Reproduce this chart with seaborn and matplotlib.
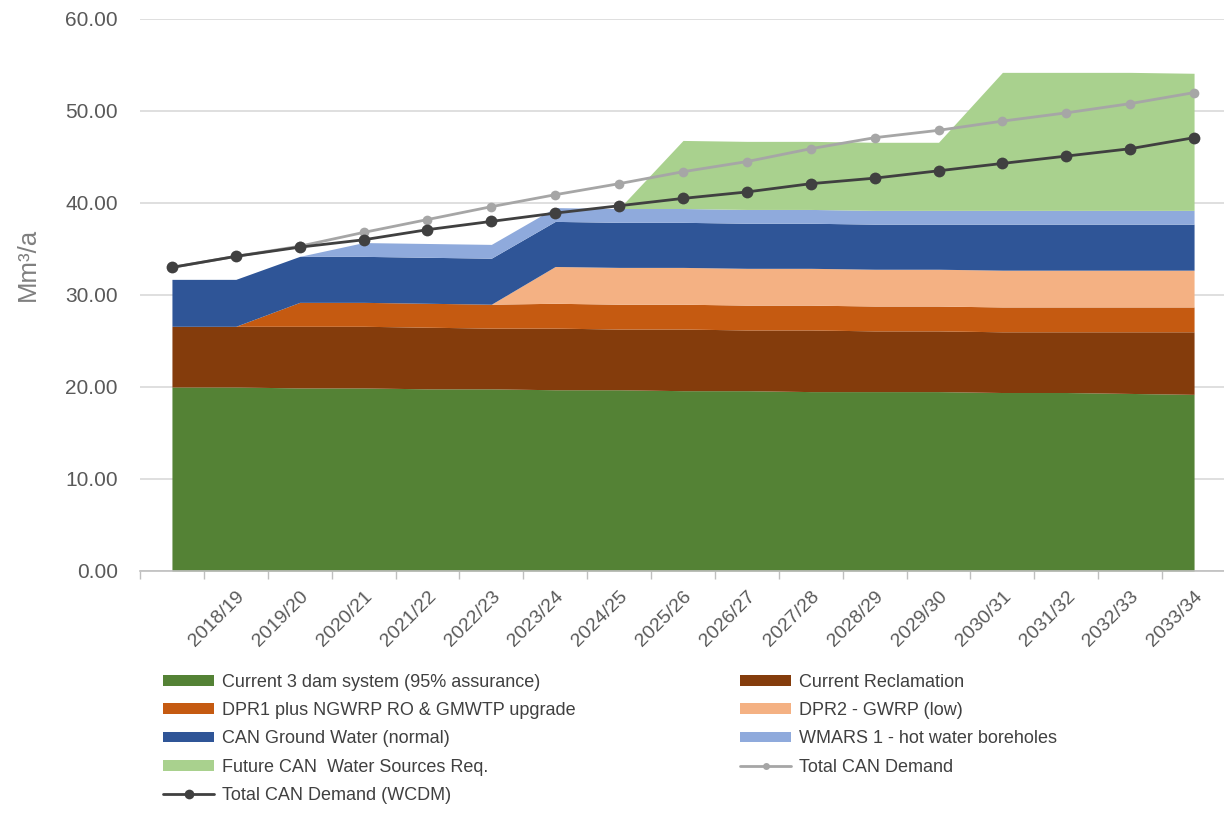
import matplotlib
matplotlib.use("Agg")
import matplotlib.pyplot as plt
import seaborn as sns
import numpy as np
import pandas as pd
from matplotlib.patches import Patch
from matplotlib.lines import Line2D

categories = ["", "2018/19", "2019/20", "2020/21", "2021/22", "2022/23", "2023/24", "2024/25",
              "2025/26", "2026/27", "2027/28", "2028/29", "2029/30", "2030/31", "2031/32",
              "2032/33", "2033/34"]

dam_system = [20.0, 20.0, 19.9, 19.9, 19.8, 19.8, 19.7, 19.7, 19.6, 19.6, 19.5, 19.5, 19.5, 19.4, 19.4, 19.3, 19.2]
reclamation = [6.6, 6.6, 6.7, 6.7, 6.7, 6.6, 6.7, 6.6, 6.7, 6.6, 6.7, 6.6, 6.6, 6.6, 6.6, 6.7, 6.8]
dpr1 = [0.0, 0.0, 2.6, 2.6, 2.6, 2.6, 2.7, 2.7, 2.7, 2.7, 2.7, 2.7, 2.7, 2.7, 2.7, 2.7, 2.7]
dpr2 = [0.0, 0.0, 0.0, 0.0, 0.0, 0.0, 4.0, 4.0, 4.0, 4.0, 4.0, 4.0, 4.0, 4.0, 4.0, 4.0, 4.0]
ground_water = [5.1, 5.1, 5.0, 5.0, 5.0, 5.0, 4.9, 4.9, 4.9, 4.9, 4.9, 4.9, 4.9, 5.0, 5.0, 5.0, 5.0]
wmars = [0.0, 0.0, 0.0, 1.5, 1.5, 1.5, 1.5, 1.5, 1.5, 1.5, 1.5, 1.5, 1.5, 1.5, 1.5, 1.5, 1.5]
future = [0.0, 0.0, 0.0, 0.0, 0.0, 0.0, 0.0, 0.0, 7.4, 7.4, 7.4, 7.4, 7.4, 15.0, 15.0, 15.0, 14.9]
total_demand = [33.0, 34.2, 35.3, 36.8, 38.2, 39.6, 40.9, 42.1, 43.4, 44.5, 45.9, 47.1, 47.9, 48.9, 49.8, 50.8, 52.0]
total_demand_wcdm = [33.0, 34.2, 35.2, 36.0, 37.1, 38.0, 38.9, 39.7, 40.5, 41.2, 42.1, 42.7, 43.5, 44.3, 45.1, 45.9, 47.1]

area_labels = ["Current 3 dam system (95% assurance)", "Current Reclamation",
               "DPR1 plus NGWRP RO & GMWTP upgrade", "DPR2 - GWRP (low)",
               "CAN Ground Water (normal)", "WMARS 1 - hot water boreholes",
               "Future CAN  Water Sources Req."]
area_colors = ["#548235", "#843C0C", "#C55A11", "#F4B183", "#2F5597", "#8FAADC", "#A9D18E"]
line_labels = ["Total CAN Demand", "Total CAN Demand (WCDM)"]
line_colors = ["#A6A6A6", "#404040"]

sns.set_theme(style="white")
plt.rcParams['font.family'] = ['Liberation Sans', 'DejaVu Sans']

fig = plt.figure(figsize=(12.24, 8.19), dpi=100)
ax = fig.add_axes([140 / 1224, 1 - 571 / 819, (1226 - 140) / 1224, (571 - 19) / 819])

x = np.arange(len(categories))
ax.stackplot(x, dam_system, reclamation, dpr1, dpr2, ground_water, wmars, future,
             colors=area_colors, linewidth=0, zorder=2)

df = pd.DataFrame({"x": np.concatenate([x, x]),
                   "y": total_demand + total_demand_wcdm,
                   "series": [line_labels[0]] * len(x) + [line_labels[1]] * len(x)})
sns.lineplot(data=df[df.series == line_labels[0]], x="x", y="y", ax=ax, color=line_colors[0],
             marker="o", markersize=7, markeredgewidth=0, linewidth=2, zorder=4, legend=False)
sns.lineplot(data=df[df.series == line_labels[1]], x="x", y="y", ax=ax, color=line_colors[1],
             marker="o", markersize=8.5, markeredgewidth=0, linewidth=2, zorder=5, legend=False)

ax.set_xlim(-0.5, len(categories) - 0.5)
ax.set_ylim(0, 60)
ax.set_yticks(np.arange(0, 61, 10))
ax.set_yticklabels([f"{v:.2f}" for v in np.arange(0, 61, 10)], fontsize=15, color="#595959")
ax.yaxis.grid(True, color="#D9D9D9", linewidth=1.2, zorder=0)
ax.set_axisbelow(True)
ax.tick_params(axis="y", length=0, pad=16)

ax.set_xticks(x)
ax.set_xticklabels(categories, rotation=45, ha="right", rotation_mode="anchor",
                   fontsize=14, color="#595959")
ax.set_xticks(np.arange(-0.5, len(categories), 1), minor=True)
ax.tick_params(axis="x", which="major", length=0, pad=12)
ax.tick_params(axis="x", which="minor", length=6, color="#BFBFBF", width=1, direction="out", bottom=True)

for s in ["top", "right", "left"]:
    ax.spines[s].set_visible(False)
ax.spines["bottom"].set_color("#BFBFBF")
ax.spines["bottom"].set_linewidth(1.2)

ax.set_xlabel("")
ax.set_ylabel("Mm³/a", fontsize=18.5, color="#7F7F7F")
ax.yaxis.set_label_coords(-0.092, 0.556)

patches = [Patch(facecolor=c, edgecolor="none", label=l) for c, l in zip(area_colors, area_labels)]
lines = [Line2D([0], [0], color=line_colors[0], marker="o", markersize=5, markeredgewidth=0, linewidth=2, label=line_labels[0]),
         Line2D([0], [0], color=line_colors[1], marker="o", markersize=7, markeredgewidth=0, linewidth=2, label=line_labels[1])]

col1 = [patches[0], patches[2], patches[4], patches[6], lines[1]]
col2 = [patches[1], patches[3], patches[5], lines[0]]
leg_kw = dict(frameon=False, fontsize=13, handlelength=2.85, handleheight=0.55,
              labelspacing=0.62, handletextpad=0.4, borderaxespad=0, borderpad=0,
              labelcolor="#404040")
leg1 = fig.legend(handles=col1, loc="upper left", bbox_to_anchor=(163 / 1224, 1 - 674 / 819), **leg_kw)
leg2 = fig.legend(handles=col2, loc="upper left", bbox_to_anchor=(740 / 1224, 1 - 674 / 819), **leg_kw)

fig.savefig("out.png", dpi=100)
